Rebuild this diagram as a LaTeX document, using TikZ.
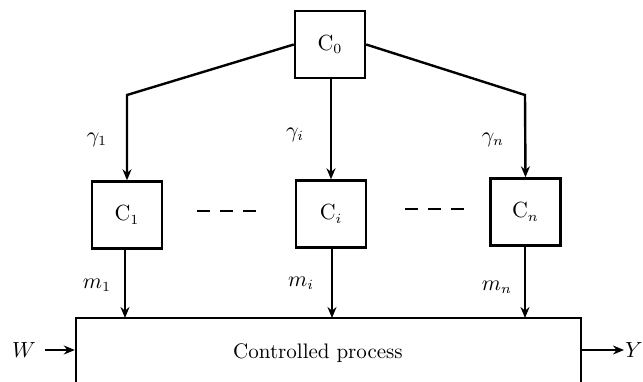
\documentclass[tikz,border=0pt]{standalone}
\usetikzlibrary{arrows.meta}
\begin{document}
\begin{tikzpicture}[x=0.5pt,y=-0.5pt,
  every node/.style={font=\fontsize{10.5pt}{12pt}\selectfont},
  blk/.style={draw,line width=1.2pt,minimum width=35pt,minimum height=33.5pt,inner sep=0pt},
  conn/.style={line width=1.2pt,-{Stealth[length=5.5pt,width=4.5pt]}},
  lbl/.style={inner sep=0pt},
  dotsline/.style={line width=1.3pt,dash pattern=on 6.5pt off 5pt}]
\useasboundingbox (0,0) rectangle (643,381);
\clip (0,0) rectangle (643,381);
\node[blk] (c0) at (330,44.5) {$\mathrm{C}_0$};
\node[blk] (c1) at (127,215) {$\mathrm{C}_1$};
\node[blk] (ci) at (331,214) {$\mathrm{C}_i$};
\node[blk] (cn) at (525.5,212) {$\mathrm{C}_n$};
\node[draw,line width=1.2pt,minimum width=252.5pt,minimum height=50pt,inner sep=0pt] (proc) at (328.5,368) {};
\node[lbl] (ptext) at (318,353) {Controlled process};
\coordinate (k1) at (127,95);
\coordinate (kn) at (525,95);
\draw[conn] (c0.west) -- (k1) -- (c1.north);
\draw[conn] (c0.east) -- (kn) -- (cn.north);
\draw[conn] (c0.south -| ci.north) -- (ci.north);
\coordinate (p1) at (125,318);
\coordinate (pi) at (332,318);
\coordinate (pn) at (525,318);
\draw[conn] (c1.south -| p1) -- (p1);
\draw[conn] (ci.south -| pi) -- (pi);
\draw[conn] (cn.south -| pn) -- (pn);
\node[lbl] (g1) at (97,140) {$\gamma_1$};
\node[lbl] (gi) at (295,135) {$\gamma_i$};
\node[lbl] (gn) at (493,140) {$\gamma_n$};
\node[lbl] (m1) at (97,285) {$m_1$};
\node[lbl] (mi) at (301,283) {$m_i$};
\node[lbl] (mn) at (497,287) {$m_n$};
\node[lbl] (w) at (24,350) {$W$};
\node[lbl] (y) at (634,350) {$Y$};
\coordinate (wa) at (45,350);
\coordinate (ya) at (624,350);
\draw[conn] (wa) -- (wa -| proc.west);
\draw[conn] (ya -| proc.east) -- (ya);
\coordinate (d1a) at (197,211);
\coordinate (d1b) at (257,211);
\coordinate (d2a) at (405,209);
\coordinate (d2b) at (465,209);
\draw[dotsline] (d1a) -- (d1b);
\draw[dotsline] (d2a) -- (d2b);
\end{tikzpicture}
\end{document}
